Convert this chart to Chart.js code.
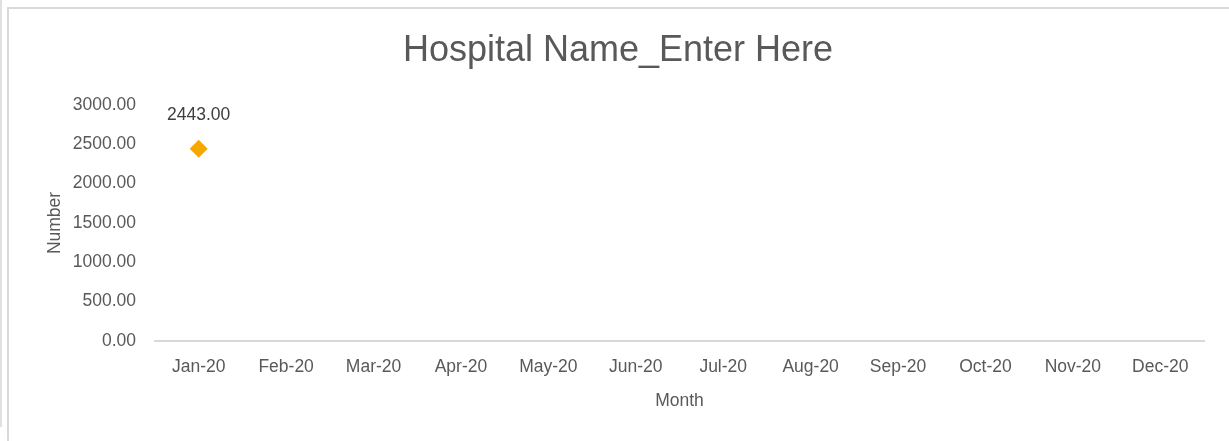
<!DOCTYPE html>
<html>
<head>
<meta charset="utf-8">
<script src="https://cdn.jsdelivr.net/npm/chart.js@4"></script>
<style>
  html, body { margin: 0; padding: 0; background: #ffffff; }
  #wrap { position: relative; width: 1229px; height: 441px; overflow: hidden; }
  canvas { position: absolute; left: 0; top: 0; }
  .ln { position: absolute; background: #d9d9d9; }
</style>
</head>
<body>
<div id="wrap">
  <canvas id="c" width="1229" height="441"></canvas>
  <div class="ln" style="left:0;top:0;width:2px;height:427px;background:#e0e0e0;"></div>
  <div class="ln" style="left:7px;top:7px;width:2px;height:434px;"></div>
  <div class="ln" style="left:7px;top:7px;width:1222px;height:2px;"></div>
</div>
<script>
const chartTitle = 'Hospital Name_Enter Here';
const xAxisTitle = 'Month';
const yAxisTitle = 'Number';
const months = ['Jan-20','Feb-20','Mar-20','Apr-20','May-20','Jun-20','Jul-20','Aug-20','Sep-20','Oct-20','Nov-20','Dec-20'];
const values = [2443, null, null, null, null, null, null, null, null, null, null, null];
const yTicks = [0, 500, 1000, 1500, 2000, 2500, 3000];

const FONT = "'Liberation Sans', Arial, sans-serif";

const dataLabels = {
  id: 'dataLabels',
  afterDatasetsDraw(chart) {
    const ctx = chart.ctx;
    const meta = chart.getDatasetMeta(0);
    ctx.save();
    ctx.font = '17.5px ' + FONT;
    ctx.fillStyle = '#404040';
    ctx.textAlign = 'center';
    ctx.textBaseline = 'middle';
    meta.data.forEach((pt, i) => {
      const v = values[i];
      if (v === null || v === undefined) return;
      ctx.fillText(v.toFixed(2), pt.x, pt.y - 34);
    });
    ctx.restore();
  }
};

new Chart(document.getElementById('c'), {
  type: 'line',
  data: {
    labels: months,
    datasets: [{
      label: 'Number',
      data: values,
      showLine: false,
      pointStyle: 'rectRot',
      pointRadius: 9,
      pointHoverRadius: 9,
      pointBorderWidth: 0,
      pointBackgroundColor: '#F4A800',
      pointBorderColor: '#F4A800',
      borderColor: '#F4A800',
      backgroundColor: '#F4A800'
    }]
  },
  options: {
    responsive: false,
    animation: false,
    events: [],
    layout: { padding: { left: 7, right: 0, top: 0, bottom: 29 } },
    plugins: {
      legend: { display: false },
      tooltip: { enabled: false },
      title: {
        display: true,
        text: chartTitle,
        color: '#595959',
        font: { family: FONT, size: 36, weight: 'normal', lineHeight: 1.2 },
        padding: { top: 29, bottom: 32.8 }
      }
    },
    scales: {
      x: {
        type: 'category',
        offset: true,
        grid: { display: false, drawTicks: false },
        border: { display: true, color: '#d9d9d9', width: 2 },
        ticks: {
          color: '#595959',
          font: { family: FONT, size: 17.5 },
          padding: 16,
          maxRotation: 0,
          autoSkip: false
        },
        title: {
          display: true,
          text: xAxisTitle,
          color: '#595959',
          font: { family: FONT, size: 17.5, lineHeight: 1.2 },
          padding: { top: 0, bottom: 0 }
        },
        afterFit(scale) { scale.height = 71; }
      },
      y: {
        type: 'linear',
        position: 'left',
        min: 0,
        max: 3000,
        afterBuildTicks(scale) { scale.ticks = yTicks.map(v => ({ value: v })); },
        grid: { display: false, drawTicks: false },
        border: { display: false },
        ticks: {
          color: '#595959',
          font: { family: FONT, size: 17.5 },
          padding: 19,
          callback: (v) => Number(v).toFixed(2)
        },
        title: {
          display: true,
          text: yAxisTitle,
          color: '#595959',
          font: { family: FONT, size: 17.5, lineHeight: 1.2 },
          padding: { top: 38, bottom: 0 }
        },
        afterFit(scale) { scale.width = 148; }
      },
      yRight: {
        type: 'linear',
        position: 'right',
        display: true,
        grid: { display: false, drawTicks: false },
        border: { display: false },
        ticks: { display: false },
        afterFit(scale) { scale.width = 25; }
      }
    }
  },
  plugins: [dataLabels]
});
</script>
</body>
</html>
